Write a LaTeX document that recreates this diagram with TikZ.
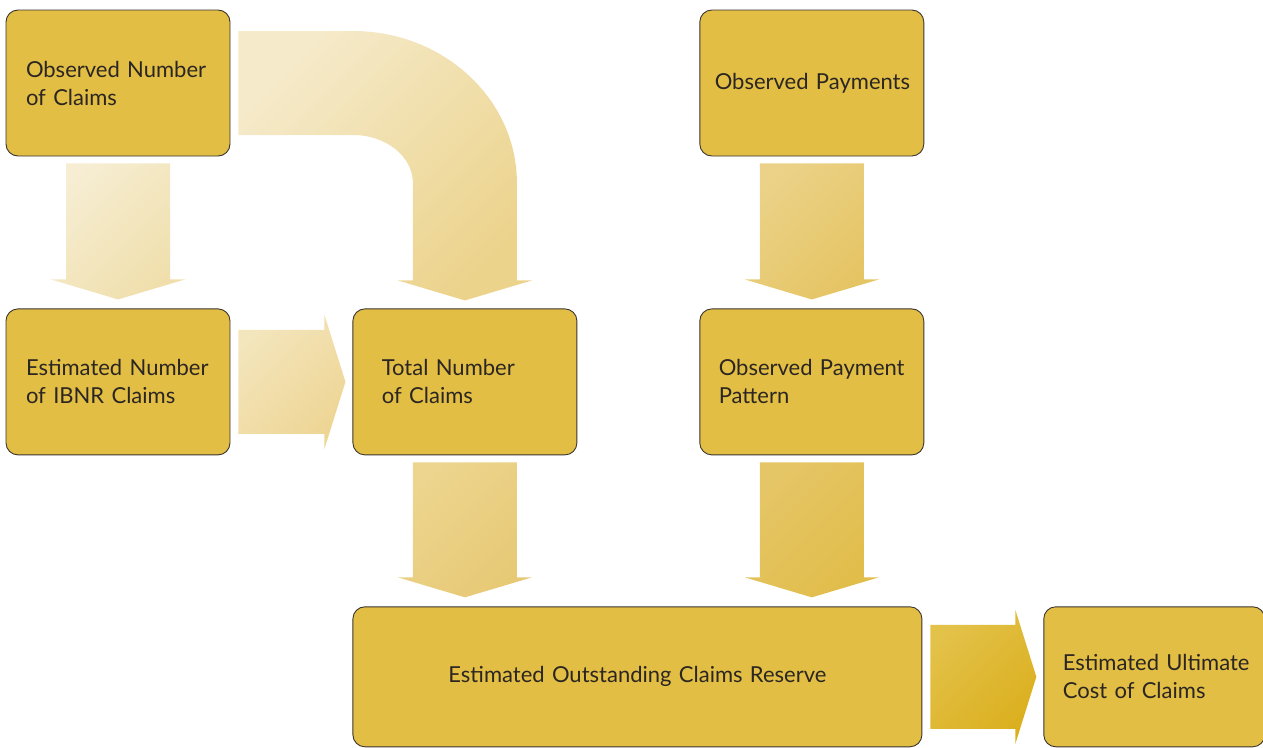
\documentclass[tikz,border=0pt]{standalone}
\usepackage{fontspec}
\setmainfont{Lato}
\usepackage{tikz}
\usetikzlibrary{positioning, calc}
\definecolor{boxfill}{HTML}{E2BE45}
\definecolor{boxline}{HTML}{3A3530}
\definecolor{txtdark}{HTML}{2B2622}
\definecolor{paleA}{HTML}{F6EDD2}
\definecolor{paleB}{HTML}{F0DFAC}
\definecolor{bendA}{HTML}{F5EACA}
\definecolor{bendB}{HTML}{ECD38C}
\definecolor{sideA}{HTML}{F3E5BC}
\definecolor{sideB}{HTML}{EED594}
\definecolor{midA}{HTML}{EDD58F}
\definecolor{midB}{HTML}{E7C975}
\definecolor{payA}{HTML}{EBD288}
\definecolor{payB}{HTML}{E5C463}
\definecolor{deepA}{HTML}{E5C667}
\definecolor{deepB}{HTML}{E1BD4A}
\definecolor{goldA}{HTML}{E3C24A}
\definecolor{goldB}{HTML}{DBAF1E}
\tikzset{
  box/.style={rectangle, draw=boxline, fill=boxfill, rounded corners=12pt,
    line width=0.9pt, minimum width=224pt, minimum height=146pt,
    text width=184pt, inner xsep=20pt, align=left, text=txtdark,
    font=\fontsize{22}{28}\selectfont},
  widebox/.style={box, minimum width=569pt, minimum height=140pt,
    text width=527pt, align=center},
  endbox/.style={box, minimum width=221pt, minimum height=140pt,
    text width=183pt, inner xsep=19pt},
  fadepale/.style={top color=paleA, bottom color=paleB, shading angle=45},
  fadebend/.style={top color=bendA, bottom color=bendB, shading angle=45},
  fadeside/.style={top color=sideA, bottom color=sideB, shading angle=45},
  fademid/.style={top color=midA, bottom color=midB, shading angle=45},
  fadepay/.style={top color=payA, bottom color=payB, shading angle=45},
  fadedeep/.style={top color=deepA, bottom color=deepB, shading angle=45},
  fadegold/.style={top color=goldA, bottom color=goldB, shading angle=45}
}
\newcommand{\downblock}[3]{%
  \path[#3] let \p1=(#1.south), \p2=(#2.north) in
    (\x1-52pt,\y1-7pt) -- (\x1+52pt,\y1-7pt) -- (\x1+52pt,\y2+29pt)
    -- (\x1+67pt,\y2+29pt) -- (\x1,\y2+9pt) -- (\x1-67pt,\y2+29pt)
    -- (\x1-52pt,\y2+29pt) -- cycle;}
\newcommand{\rightblock}[3]{%
  \path[#3] let \p1=(#1.east), \p2=(#2.west) in
    (\x1+8pt,\y1+52pt) -- (\x2-28pt,\y1+52pt) -- (\x2-28pt,\y1+67pt)
    -- (\x2-7pt,\y1) -- (\x2-28pt,\y1-67pt) -- (\x2-28pt,\y1-52pt)
    -- (\x1+8pt,\y1-52pt) -- cycle;}

\begin{document}
\begin{tikzpicture}
  \useasboundingbox (0pt,0pt) rectangle (1263pt,-747pt);

  \node[box] (obsN) at (118pt,-83pt) {\mbox{Observed Number}\\\mbox{of Claims}};
  \node[box, below=152pt of obsN] (ibnr) {\mbox{Estimated Number}\\\mbox{of IBNR Claims}};
  \node[box, right=122pt of ibnr, text width=166pt, inner xsep=29pt] (total)
    {\mbox{Total Number}\\\mbox{of Claims}};
  \node[box, right=122pt of total, text width=186pt, inner xsep=19pt] (pattern)
    {\mbox{Observed Payment}\\\mbox{Pattern}};
  \node[box, above=152pt of pattern, text width=194pt, inner xsep=15pt] (obsP)
    {\mbox{Observed Payments}};
  \node[widebox, below=151pt of total.south west, anchor=north west] (reserve)
    {Estimated Outstanding Claims Reserve};
  \node[endbox, right=121pt of reserve] (ultimate)
    {\mbox{Estimated Ultimate}\\\mbox{Cost of Claims}};

  \downblock{obsN}{ibnr}{fadepale}
  \path[fadebend] let \p1=(obsN.east), \p2=(total.north) in
    (\x1+8pt,\y1+52pt) -- (\x2-112pt,\y1+52pt)
    arc[start angle=90, end angle=0, x radius=164pt, y radius=152pt]
    -- (\x2+52pt,\y2+28pt) -- (\x2+67pt,\y2+28pt) -- (\x2,\y2+8pt)
    -- (\x2-67pt,\y2+28pt) -- (\x2-52pt,\y2+28pt) -- (\x2-52pt,\y1-100pt)
    arc[start angle=0, end angle=90, x radius=60pt, y radius=48pt]
    -- (\x1+8pt,\y1-52pt) -- cycle;
  \rightblock{ibnr}{total}{fadeside}
  \downblock{obsP}{pattern}{fadepay}
  \downblock{total}{reserve.north -| total}{fademid}
  \downblock{pattern}{reserve.north -| pattern}{fadedeep}
  \rightblock{reserve}{ultimate}{fadegold}
\end{tikzpicture}
\end{document}
